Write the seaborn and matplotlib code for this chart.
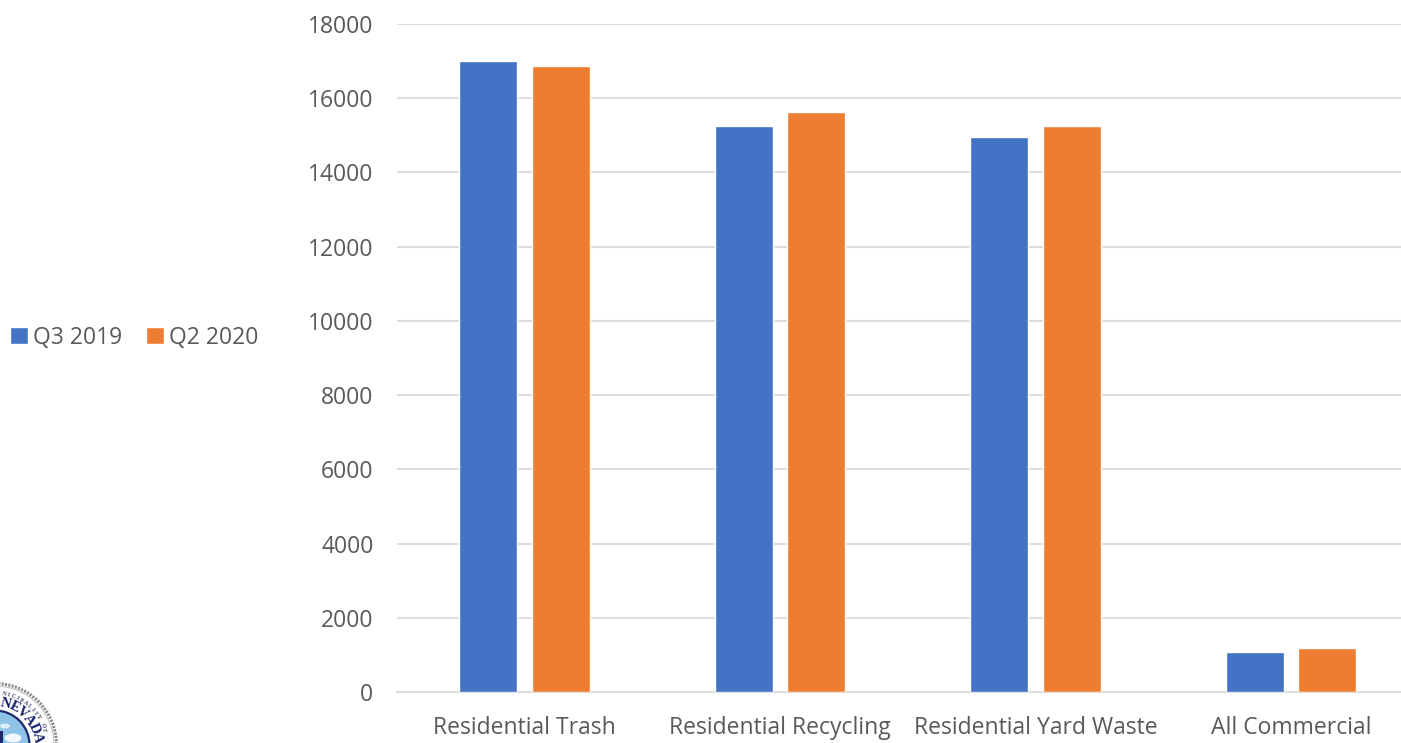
import numpy as np
import pandas as pd
import seaborn as sns
import matplotlib
matplotlib.use("Agg")
import matplotlib.pyplot as plt
from matplotlib.patches import Circle, Ellipse, Rectangle

categories = ["Residential Trash", "Residential Recycling", "Residential Yard Waste", "All Commercial"]
q3_2019 = [16990, 15250, 14960, 1070]
q2_2020 = [16880, 15620, 15250, 1190]
series_names = ["Q3 2019", "Q2 2020"]
series_colors = ["#4472C4", "#ED7D31"]
y_ticks = list(range(0, 18001, 2000))

W, H = 1401, 743
sns.set_theme(style="white")
plt.rcParams["font.family"] = ["Open Sans", "DejaVu Sans"]
TEXT = "#595959"
GRID = "#DDDDDD"

df = pd.DataFrame({
    "category": categories * 2,
    "quarter": [series_names[0]] * 4 + [series_names[1]] * 4,
    "tons": q3_2019 + q2_2020,
})

fig = plt.figure(figsize=(W / 100, H / 100), dpi=100, facecolor="white")
ax = fig.add_axes([397 / W, 1 - 692 / H, (W - 397) / W, (692 - 24) / H])

sns.barplot(data=df, x="category", y="tons", hue="quarter", order=categories,
            hue_order=series_names, palette=series_colors, width=0.568, gap=0.2,
            saturation=1, ax=ax, legend=True, zorder=3)

ax.set_xlim(-0.5, (W - 525) / 255.3)
ax.set_ylim(0, 18000)
ax.set_yticks(y_ticks)
ax.set_xlabel("")
ax.set_ylabel("")
ax.grid(axis="y", color=GRID, lw=1.5, zorder=0)
ax.set_axisbelow(True)
for side in ["top", "right", "left"]:
    ax.spines[side].set_visible(False)
ax.spines["bottom"].set_color(GRID)
ax.spines["bottom"].set_linewidth(1.5)
ax.tick_params(axis="both", length=0, labelsize=16.5, labelcolor=TEXT)
ax.tick_params(axis="x", pad=17.5)
ax.tick_params(axis="y", pad=17)

handles, labels = ax.get_legend_handles_labels()
ax.get_legend().remove()
fig.legend(handles, labels, loc="center left", bbox_to_anchor=(-8 / W, 1 - 337.5 / H),
           frameon=False, fontsize=16.5, labelcolor=TEXT, ncol=2, handlelength=0.78,
           handleheight=0.78, handletextpad=0.22, columnspacing=1.02, borderpad=0.3)

# Town seal in the lower-left corner, cut off by the figure edge
seal = fig.add_axes([0, 0, 1, 1], facecolor="none", zorder=5)
seal.set_xlim(0, W)
seal.set_ylim(H, 0)
seal.axis("off")
cx, cy, r = -5, 745, 61.5
seal.add_patch(Circle((cx, cy), r, fc="white", ec="#8C8C8C", lw=2.2, ls=(0, (0.7, 0.4))))
seal.add_patch(Circle((cx, cy), r - 2.5, fc="none", ec="#C4C4C4", lw=0.8))
seal.add_patch(Circle((cx, cy), r - 27, fc="#8FC3E8", ec="#1C2A6B", lw=1.6))
seal.add_patch(Ellipse((13, 738), 17, 9, fc="white", ec="none", alpha=0.9))
seal.add_patch(Ellipse((5, 726), 10, 5, fc="white", ec="none", alpha=0.7))
seal.add_patch(Rectangle((0, 731), 2.5, 12, fc="#1C2A6B", ec="none"))


def arc_text(text, radius, start_deg, end_deg, size, color):
    for ch, ang in zip(text, np.linspace(start_deg, end_deg, len(text))):
        a = np.radians(ang)
        seal.text(cx + radius * np.cos(a), cy - radius * np.sin(a), ch, fontsize=size,
                  color=color, weight="bold", ha="center", va="center",
                  rotation=ang - 90, family="Liberation Serif")


arc_text("NICIPALITY OF", 51.5, 80, 17, 4.2, "#3A3F66")
arc_text("NEVADA", 42.5, 76, 10, 10.5, "#17206B")

fig.savefig("out.png", dpi=100, facecolor="white")
